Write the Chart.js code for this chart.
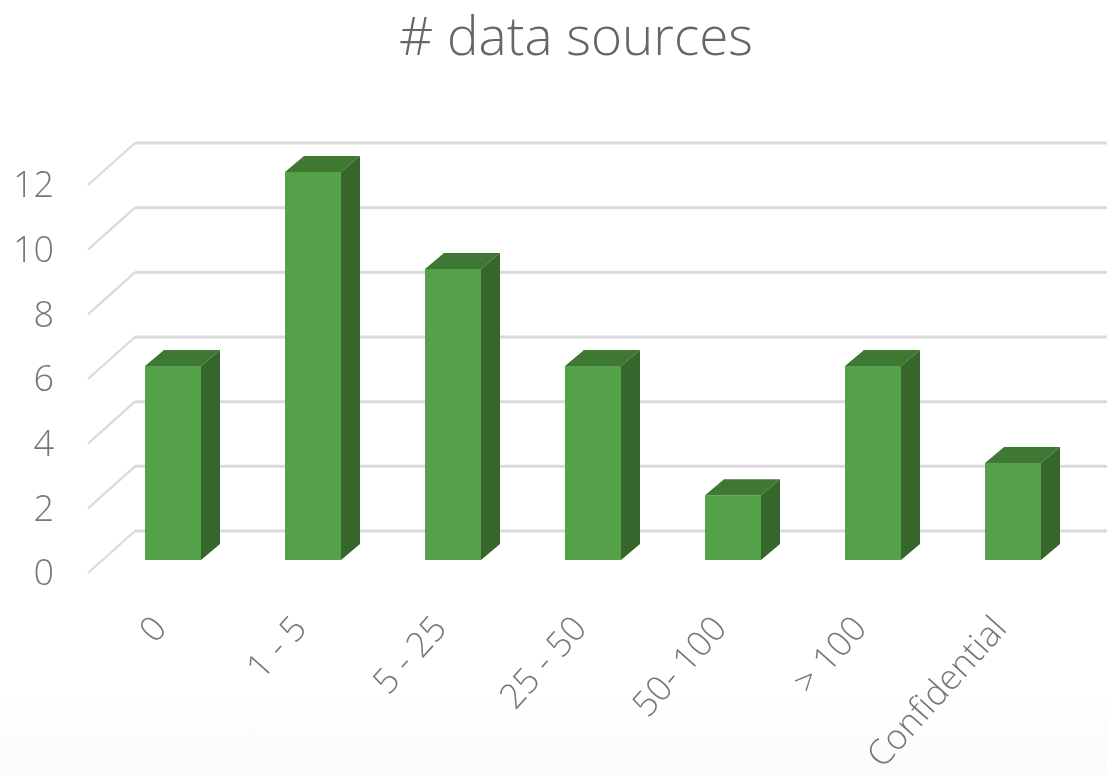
<!DOCTYPE html>
<html>
<head>
<meta charset="utf-8">
<title># data sources</title>
<script src="https://cdn.jsdelivr.net/npm/chart.js@4"></script>
<style>
  html, body { margin: 0; padding: 0; width: 1107px; height: 775px; overflow: hidden; }
  body { background: linear-gradient(to bottom, #ffffff 0, #ffffff 690px, #fafafa 775px); }
  #wrap { position: absolute; left: 0; top: 0; width: 1107px; height: 775px; }
  canvas { filter: blur(0.7px); }
</style>
</head>
<body>
<div id="wrap"><canvas id="chart"></canvas></div>
<script>
const categories = ['0', '1 - 5', '5 - 25', '25 - 50', '50- 100', '> 100', 'Confidential'];
const sources = [6, 12, 9, 6, 2, 6, 3];

// profundidad del efecto 3D
const barDx = 19, barDy = 16;
const wallDx = 32, wallDy = 29, sideDx = 47, sideDy = 42;

const wall3d = {
  id: 'wall3d',
  // el titulo no esta centrado en el lienzo
  afterLayout(chart) { chart.titleBlock.left = 69; },
  beforeDatasetsDraw(chart) {
    const c = chart.ctx, y = chart.scales.y, area = chart.chartArea;
    c.save();
    c.strokeStyle = '#dadada';
    y.ticks.forEach(t => {
      const py = y.getPixelForValue(t.value) - wallDy;
      c.lineWidth = 2.2;
      c.beginPath();
      c.moveTo(area.left + wallDx - sideDx, py + sideDy);
      c.lineTo(area.left + wallDx, py);
      c.stroke();
      c.lineWidth = 3;
      c.beginPath();
      c.moveTo(area.left + wallDx, py);
      c.lineTo(chart.width, py);
      c.stroke();
    });
    c.restore();
  }
};

const bars3d = {
  id: 'bars3d',
  afterDatasetsDraw(chart) {
    const c = chart.ctx;
    c.save();
    chart.getDatasetMeta(0).data.forEach(b => {
      const l = b.x - b.width / 2, r = b.x + b.width / 2;
      c.fillStyle = '#3f7833';
      c.beginPath();
      c.moveTo(l, b.y);
      c.lineTo(l + barDx, b.y - barDy);
      c.lineTo(r + barDx, b.y - barDy);
      c.lineTo(r, b.y);
      c.closePath();
      c.fill();
      c.fillStyle = '#35662b';
      c.beginPath();
      c.moveTo(r, b.y);
      c.lineTo(r + barDx, b.y - barDy);
      c.lineTo(r + barDx, b.base - barDy);
      c.lineTo(r, b.base);
      c.closePath();
      c.fill();
    });
    c.restore();
  }
};

new Chart(document.getElementById('chart').getContext('2d'), {
  type: 'bar',
  data: {
    labels: categories,
    datasets: [{
      data: sources,
      backgroundColor: '#55a14a',
      barPercentage: 0.4,
      categoryPercentage: 1
    }]
  },
  plugins: [wall3d, bars3d],
  options: {
    responsive: true,
    maintainAspectRatio: false,
    animation: false,
    layout: { padding: { right: 24 } },
    plugins: {
      legend: { display: false },
      tooltip: { enabled: false },
      title: {
        display: true,
        text: '# data sources',
        color: '#666666',
        font: { family: '"Open Sans"', size: 53, weight: '300' },
        padding: { top: 8, bottom: 100.4 }
      }
    },
    scales: {
      x: {
        afterFit(s) { s.height = 215; },
        grid: { display: false, drawTicks: false },
        border: { display: false },
        ticks: {
          autoSkip: false,
          minRotation: 48,
          maxRotation: 48,
          padding: 49,
          labelOffset: -12,
          color: '#777777',
          font: { family: '"Open Sans"', size: 35, weight: '300' }
        }
      },
      y: {
        min: 0,
        max: 12,
        afterFit(s) { s.width = 103; },
        grid: { display: false, drawTicks: false },
        border: { display: false },
        ticks: {
          stepSize: 2,
          padding: 49,
          labelOffset: 15,
          color: '#777777',
          font: { family: '"Open Sans"', size: 36, weight: '300' }
        }
      }
    }
  }
});
</script>
</body>
</html>
